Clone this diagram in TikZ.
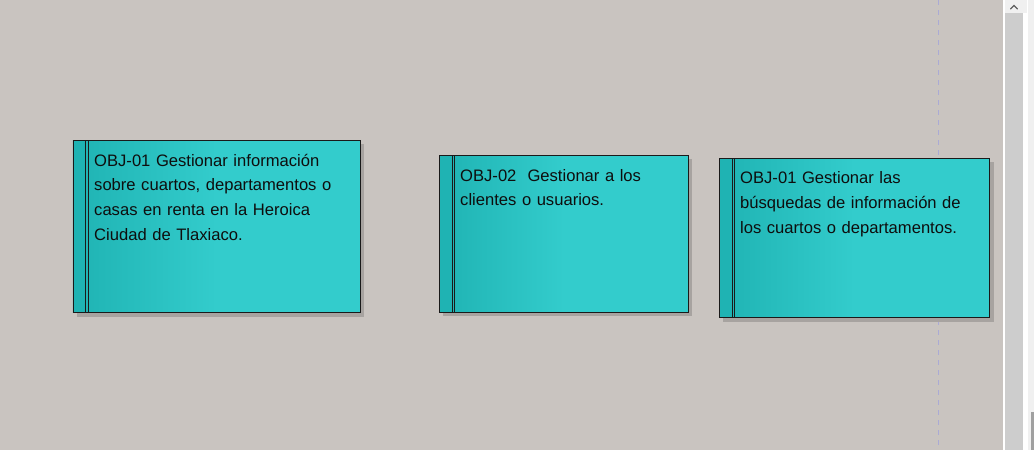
\documentclass[tikz,border=0pt]{standalone}
\usepackage{fontspec}
\setmainfont{Liberation Sans}
\usepackage{tikz}
\usetikzlibrary{positioning, calc, shadows}
\definecolor{canvasgray}{HTML}{C9C4C0}
\definecolor{tealdark}{HTML}{1FB3B3}
\definecolor{teallight}{HTML}{33CCCC}
\definecolor{inkline}{HTML}{1A1A1A}
\definecolor{inktext}{HTML}{0E0E0E}
\definecolor{shadowgray}{HTML}{A7A3A0}
\definecolor{guideblue}{HTML}{AAAAD6}
\definecolor{barlight}{HTML}{F0F0F0}
\definecolor{barthumb}{HTML}{CDCDCD}
\definecolor{bargrip}{HTML}{A0A0A0}

\tikzset{
  objbox/.style={draw=inkline, line width=0.9pt, anchor=north west, inner sep=0pt,
    left color=tealdark, right color=teallight, middle color=teallight,
    drop shadow={shadow xshift=4pt, shadow yshift=-4pt, fill=shadowgray, opacity=1},
    path picture={
      \fill[tealdark] (path picture bounding box.north west) rectangle ([xshift=13pt]path picture bounding box.south west);
      \draw[inkline, line width=1pt]
        ([xshift=13pt]path picture bounding box.north west) -- ([xshift=13pt]path picture bounding box.south west)
        ([xshift=15.5pt]path picture bounding box.north west) -- ([xshift=15.5pt]path picture bounding box.south west);
    }},
  objtext/.style={anchor=base west, inner sep=0pt, text width=#1, align=left,
    font=\fontsize{16.6}{24.8}\selectfont, text=inktext},
}

\begin{document}
\begin{tikzpicture}[x=1pt, y=-1pt]
    \useasboundingbox[fill=canvasgray] (0,0) rectangle (1034,450);
    % guide line
    \draw[guideblue, line width=1pt, dash pattern=on 5pt off 5pt] (938,0) -- (938,450);
    % OBJ-01 rentas
    \node[objbox, minimum width=287.5pt, minimum height=172.3pt] (obj1) at (72.5,140) {};
    \node[objtext=262pt] (txt1) at ([shift={(21.5,26)}]obj1.north west)
      {OBJ-01 Gestionar información\\sobre cuartos, departamentos o\\casas en renta en la Heroica\\Ciudad de Tlaxiaco.};
    % OBJ-02 clientes
    \node[objbox, minimum width=248.7pt, minimum height=156.7pt] (obj2) at (439,155) {};
    \node[objtext=224pt] (txt2) at ([shift={(21,26)}]obj2.north west)
      {OBJ-02\ \ Gestionar a los\\clientes o usuarios.};
    % OBJ-01 busquedas
    \node[objbox, minimum width=270.3pt, minimum height=159.6pt] (obj3) at (719,157.7) {};
    \node[objtext=246pt] (txt3) at ([shift={(21,26)}]obj3.north west)
      {OBJ-01 Gestionar las\\búsquedas de información de\\los cuartos o departamentos.};
    % scrollbar
    \fill[white] (1003,0) rectangle (1034,450);
    \fill[barlight] (1005,0) rectangle (1027,13);
    \fill[barthumb] (1005,13) rectangle (1023,450);
    \fill[barlight] (1028,0) rectangle (1034,450);
    \fill[bargrip] (1031,412) rectangle (1034,450);
    \draw[inkline!70, line width=1.3pt, line cap=round] (1010.5,9) -- (1014,5.5) -- (1017.5,9);
\end{tikzpicture}
\end{document}
